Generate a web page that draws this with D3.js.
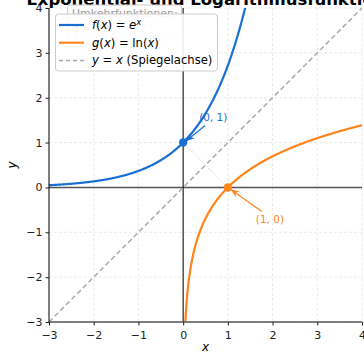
<!DOCTYPE html>
<html><head><meta charset="utf-8">
<script src="https://cdn.jsdelivr.net/npm/d3@7"></script>
<style>body{margin:0;background:#fff}svg{display:block;font-family:"DejaVu Sans",sans-serif}</style>
</head><body><svg id="c" width="364" height="353"></svg>
<script>
const xTicks = [-3,-2,-1,0,1,2,3,4];
const yTicks = [-3,-2,-1,0,1,2,3,4];
const xDomain = [-3,4];
const yDomain = [-3,4];
const points = [{name:"f", x:0, y:1, label:"(0, 1)"},{name:"g", x:1, y:0, label:"(1, 0)"}];
const legendLabels = ["f(x) = e^x","g(x) = ln(x)","y = x (Spiegelachse)"];
const titleText = "Exponential- und Logarithmusfunktion";
const noteText = ["Umkehrfunktionen:","g = f⁻¹, f = g⁻¹"];
const blue = "#1a6fd3", orange = "#ff841a", gray = "#aaaaaa";

const svg = d3.select("#c");
const m = {l:49, r:362, t:8, b:322};
const x = d3.scaleLinear().domain(xDomain).range([m.l, m.r]);
const y = d3.scaleLinear().domain(yDomain).range([m.b, m.t]);

const defs = svg.append("defs");
[["ab",blue],["ao",orange]].forEach(([id,c])=>{
  defs.append("marker").attr("id",id).attr("viewBox","0 0 10 10").attr("refX",10).attr("refY",5)
   .attr("markerWidth",7).attr("markerHeight",7).attr("orient","auto-start-reverse")
   .append("path").attr("d","M0,1 L10,5 L0,9 L3,5 Z").attr("fill",c);
});
defs.append("clipPath").attr("id","clip").append("rect").attr("x",m.l).attr("y",m.t).attr("width",m.r-m.l).attr("height",m.b-m.t);

// grid
svg.append("g").selectAll("line").data(xTicks).join("line")
 .attr("x1",d=>x(d)).attr("x2",d=>x(d)).attr("y1",m.t).attr("y2",m.b)
 .attr("stroke","#e4e4e4").attr("stroke-dasharray","3,2").attr("stroke-width",0.8);
svg.append("g").selectAll("line").data(yTicks).join("line")
 .attr("y1",d=>y(d)).attr("y2",d=>y(d)).attr("x1",m.l).attr("x2",m.r)
 .attr("stroke","#e4e4e4").attr("stroke-dasharray","3,2").attr("stroke-width",0.8);

// axes lines
svg.append("line").attr("x1",m.l).attr("x2",m.r).attr("y1",y(0)).attr("y2",y(0)).attr("stroke","#555").attr("stroke-width",1.4);
svg.append("line").attr("x1",x(0)).attr("x2",x(0)).attr("y1",m.t).attr("y2",m.b).attr("stroke","#000").attr("stroke-width",1);

const plot = svg.append("g").attr("clip-path","url(#clip)");
// y = x
plot.append("line").attr("x1",x(-3)).attr("y1",y(-3)).attr("x2",x(4)).attr("y2",y(4))
 .attr("stroke",gray).attr("stroke-width",1.5).attr("stroke-dasharray","5,3");
// dotted connector
plot.append("line").attr("x1",x(0)).attr("y1",y(1)).attr("x2",x(1)).attr("y2",y(0))
 .attr("stroke","#bbb").attr("stroke-width",1).attr("stroke-dasharray","1,2");

const line = d3.line().x(d=>x(d[0])).y(d=>y(d[1]));
const fx = d3.range(-3, Math.log(4.2), 0.01).map(v=>[v, Math.exp(v)]);
const gx = d3.range(Math.exp(-3.2), 4.001, 0.005).map(v=>[v, Math.log(v)]);
plot.append("path").attr("d",line(fx)).attr("fill","none").attr("stroke",blue).attr("stroke-width",2.2);
plot.append("path").attr("d",line(gx)).attr("fill","none").attr("stroke",orange).attr("stroke-width",2.2);

// points
svg.selectAll("circle.p").data(points).join("circle").attr("class","p")
 .attr("cx",d=>x(d.x)).attr("cy",d=>y(d.y)).attr("r",4.2).attr("fill",d=>d.name==="f"?blue:orange);

// annotations
svg.append("line").attr("x1",x(0)+22).attr("y1",y(1)-17).attr("x2",x(0)+3).attr("y2",y(1)-1.5)
 .attr("stroke",blue).attr("stroke-width",1.2).attr("marker-end","url(#ab)");
svg.append("text").attr("x",x(0)+16).attr("y",y(1)-22).attr("fill",blue).attr("font-size",10.5).text(points[0].label);
svg.append("line").attr("x1",x(1)+34).attr("y1",y(0)+24).attr("x2",x(1)+3).attr("y2",y(0)+2)
 .attr("stroke",orange).attr("stroke-width",1.2).attr("marker-end","url(#ao)");
svg.append("text").attr("x",x(1)+28).attr("y",y(0)+36).attr("fill",orange).attr("font-size",10.5).text(points[1].label);

// spines
svg.append("line").attr("x1",m.l).attr("x2",m.l).attr("y1",m.t).attr("y2",m.b).attr("stroke","#000").attr("stroke-width",1);
svg.append("line").attr("x1",m.l).attr("x2",m.r).attr("y1",m.b).attr("y2",m.b).attr("stroke","#555").attr("stroke-width",1.4);

// ticks
const xa = svg.append("g").attr("transform",`translate(0,${m.b})`).call(d3.axisBottom(x).tickValues(xTicks).tickSize(3.5).tickFormat(d=>String(d).replace("-","−")));
const ya = svg.append("g").attr("transform",`translate(${m.l},0)`).call(d3.axisLeft(y).tickValues(yTicks).tickSize(3.5).tickFormat(d=>String(d).replace("-","−")));
[xa,ya].forEach(a=>{a.select(".domain").remove();a.selectAll("text").attr("font-size",11).attr("font-family","DejaVu Sans").attr("fill","#222");a.selectAll(".tick line").attr("stroke","#222");});
xa.selectAll("text").attr("dy","0.95em");

svg.append("text").attr("x",(m.l+m.r)/2).attr("y",351).attr("text-anchor","middle").attr("font-size",12).attr("font-style","italic").text("x");
svg.append("text").attr("transform",`translate(16,${(m.t+m.b)/2}) rotate(-90)`).attr("text-anchor","middle").attr("font-size",12).attr("font-style","italic").text("y");

// title
svg.append("text").attr("x",206).attr("y",4.5).attr("text-anchor","middle").attr("font-size",16.5).attr("font-weight","bold").text(titleText);

// note box
const note = svg.append("g");
note.append("rect").attr("x",67.5).attr("y",5).attr("width",114).attr("height",33).attr("rx",3).attr("fill","#fff").attr("fill-opacity",0.8).attr("stroke","#ccc");
note.selectAll("text").data(noteText).join("text").attr("x",72).attr("y",(d,i)=>17+i*15).attr("font-size",11).attr("fill","#999").text(d=>d);

// legend
const lg = svg.append("g");
lg.append("rect").attr("x",55.5).attr("y",14).attr("width",162).attr("height",57).attr("rx",3).attr("fill","#fff").attr("fill-opacity",0.9).attr("stroke","#ccc");
const rows = [{c:blue,dash:null},{c:orange,dash:null},{c:gray,dash:"4,3"}];
rows.forEach((r,i)=>{
  const yy = 25+i*17.7;
  lg.append("line").attr("x1",59).attr("x2",84).attr("y1",yy).attr("y2",yy).attr("stroke",r.c).attr("stroke-width",r.dash?1.5:2.2).attr("stroke-dasharray",r.dash);
});
const fs = 11.6;
const t0 = lg.append("text").attr("x",92).attr("y",29).attr("font-size",fs);
t0.append("tspan").attr("font-style","italic").text("f");
t0.append("tspan").text("(");
t0.append("tspan").attr("font-style","italic").text("x");
t0.append("tspan").text(") = ");
t0.append("tspan").attr("font-style","italic").text("e");
t0.append("tspan").attr("font-style","italic").attr("font-size",8.5).attr("dy",-4.5).text("x");
const t1 = lg.append("text").attr("x",92).attr("y",46.7).attr("font-size",fs);
t1.append("tspan").attr("font-style","italic").text("g");
t1.append("tspan").text("(");
t1.append("tspan").attr("font-style","italic").text("x");
t1.append("tspan").text(") = ln(");
t1.append("tspan").attr("font-style","italic").text("x");
t1.append("tspan").text(")");
const t2 = lg.append("text").attr("x",92).attr("y",64.4).attr("font-size",fs);
t2.append("tspan").attr("font-style","italic").text("y");
t2.append("tspan").text(" = ");
t2.append("tspan").attr("font-style","italic").text("x");
t2.append("tspan").text(" (Spiegelachse)");
</script></body></html>
